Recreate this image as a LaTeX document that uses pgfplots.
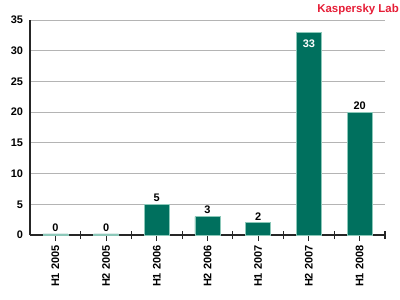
\documentclass[border=0pt]{standalone}
\usepackage{pgfplots}
\pgfplotsset{compat=1.18}
\usepackage{fontspec}
\setmainfont{Liberation Sans}
\definecolor{barfill}{RGB}{0,112,94}
\definecolor{baredge}{RGB}{140,200,185}
\definecolor{kred}{RGB}{230,30,55}
\definecolor{gridgray}{RGB}{180,180,180}
\begin{document}
\begin{tikzpicture}
\path[use as bounding box] (0,0) rectangle (400bp,300bp);
\begin{axis}[
  at={(30bp,65bp)}, anchor=south west,
  scale only axis, width=355bp, height=215bp,
  xmin=-0.5, xmax=6.5, ymin=0, ymax=35,
  axis x line=bottom, axis y line=left,
  axis line style={-, line width=1.5pt, black!85},
  ytick={0,5,...,35},
  ymajorgrids, grid style={gridgray, line width=0.8pt},
  ytick style={draw=none},
  xtick={0,...,6},
  xticklabels={H1 2005,H2 2005,H1 2006,H2 2006,H1 2007,H2 2007,H1 2008},
  xtick style={black!85, line width=1.1pt},
  tick align=outside, major tick length=6bp,
  extra x ticks={0.5,1.5,...,6.5},
  extra x tick labels={},
  extra x tick style={tick align=center, major tick length=8bp, xticklabel=\empty},
  /pgf/number format/assume math mode=true,
  tick label style={font=\bfseries\fontsize{11}{13}\selectfont},
  x tick label style={rotate=90, anchor=east, xshift=-1bp},
  yticklabel style={xshift=2.5bp},
  ybar, bar width=25bp, bar shift=0pt,
  clip=false,
]
\addplot[fill=barfill, draw=baredge, line width=0.5pt,
  nodes near coords={\pgfmathprintnumber{\pgfplotspointmeta}},
  point meta=explicit,
  every node near coord/.append style={font=\bfseries\fontsize{11}{13}\selectfont, text=black, yshift=-1bp}]
  coordinates {(0,0.2) [0] (1,0.2) [0] (2,5) [5] (3,3) [3] (4,2) [2] (6,20) [20]};
\addplot[fill=barfill, draw=baredge, line width=0.5pt,
  nodes near coords,
  every node near coord/.append style={font=\bfseries\fontsize{11}{13}\selectfont, text=white, anchor=north, yshift=-4bp}]
  coordinates {(5,33)};
\end{axis}
\node[anchor=north east, inner sep=0pt, text=kred, font=\bfseries\fontsize{11.5}{13}\selectfont] at (399bp,296bp) {Kaspersky Lab};
\end{tikzpicture}
\end{document}
